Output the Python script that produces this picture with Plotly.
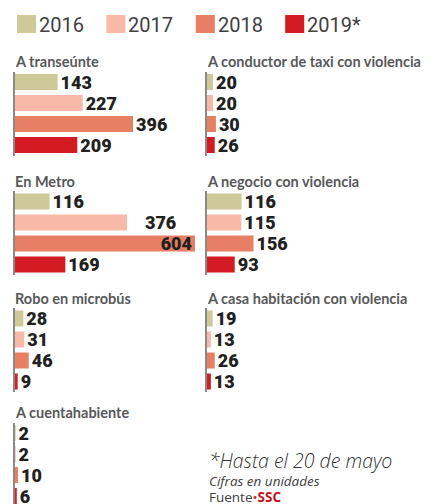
import plotly.graph_objects as go

W, H = 446, 504

years = ["2016", "2017", "2018", "2019*"]
year_keys = ["2016", "2017", "2018", "2019"]
colors = ["#cfc899", "#f8b9a8", "#e67f64", "#d41a22"]

titles = [
    "A transeúnte",
    "A conductor de taxi con violencia",
    "En Metro",
    "A negocio con violencia",
    "Robo en microbús",
    "A casa habitación con violencia",
    "A cuentahabiente",
]
transeunte = [143, 227, 396, 209]
taxi = [20, 20, 30, 26]
metro = [116, 376, 604, 169]
negocio = [116, 115, 156, 93]
microbus = [28, 31, 46, 9]
casa = [19, 13, 26, 13]
cuentahabiente = [2, 2, 10, 6]
series = [transeunte, taxi, metro, negocio, microbus, casa, cuentahabiente]

# layout (pixels)
col_x = [15, 207]
row_top = [71.5, 191, 308, 422.5]
row_base = [69, 188, 305.5, 419]
pitch = 21.0
XMAX = 650
px_per_unit = 0.298

def xd(p):
    return p / W

def yd(p):
    return 1 - p / H

fig = go.Figure()
layout = dict(
    width=W, height=H,
    margin=dict(l=0, r=0, t=0, b=0),
    paper_bgcolor="white", plot_bgcolor="rgba(0,0,0,0)",
    showlegend=False,
    annotations=[], shapes=[],
)

label_font = dict(family="Roboto", size=18, color="#231f20", weight=900)

for i, (title, vals) in enumerate(zip(titles, series)):
    col = i % 2
    row = i // 2
    n = i + 1
    xa = "x" if n == 1 else f"x{n}"
    ya = "y" if n == 1 else f"y{n}"
    x0 = col_x[col]
    x1 = x0 + XMAX * px_per_unit
    top = row_top[row]
    bot = min(top + 4 * pitch, H)
    units = (bot - top) / pitch
    positions = []
    texts = []
    for v in vals:
        if v == max(vals) and v > 500:
            positions.append("inside")
        else:
            positions.append("outside")
        texts.append(str(v))
    # displaced label in Metro panel for 2017
    if title == "En Metro":
        texts[1] = ""
    fig.add_trace(go.Bar(
        x=vals, y=year_keys, orientation="h",
        marker=dict(color=colors, line=dict(width=0)),
        width=0.76,
        text=texts, textposition=positions,
        insidetextanchor="end",
        textfont=label_font,
        insidetextfont=label_font,
        outsidetextfont=label_font,
        cliponaxis=False, constraintext="none",
        hoverinfo="skip",
        xaxis=xa, yaxis=ya,
    ))
    if title == "En Metro":
        layout["annotations"].append(dict(
            x=vals[1], y=1, xref=xa, yref=ya,
            text=str(vals[1]), showarrow=False, xanchor="left", yanchor="middle",
            xshift=16, font=label_font,
        ))
    layout["xaxis" if n == 1 else f"xaxis{n}"] = dict(
        domain=[xd(x0), xd(x1)], range=[0, XMAX], visible=False,
        anchor=ya, fixedrange=True,
    )
    layout["yaxis" if n == 1 else f"yaxis{n}"] = dict(
        domain=[yd(bot), yd(top)], type="category",
        categoryorder="array", categoryarray=year_keys,
        range=[-0.5 + units, -0.5],
        showline=True, linecolor="#8a8a8a", linewidth=2,
        showticklabels=False, ticks="", showgrid=False, zeroline=False,
        anchor=xa, fixedrange=True,
    )
    layout["annotations"].append(dict(
        x=xd(x0 - 2), y=yd(row_base[row] + 3.5), xref="paper", yref="paper",
        text=title, showarrow=False, xanchor="left", yanchor="bottom",
        font=dict(family="Lato", size=14.5, color="#58595b", weight="bold"),
    ))

# legend
for i, (lab, c) in enumerate(zip(years, colors)):
    lx = 17 + i * 89.4
    layout["shapes"].append(dict(
        type="rect", xref="paper", yref="paper",
        x0=xd(lx), x1=xd(lx + 19), y0=yd(33), y1=yd(15),
        fillcolor=c, line=dict(width=0),
    ))
    layout["annotations"].append(dict(
        x=xd(lx + 20), y=yd(25), xref="paper", yref="paper",
        text=lab, showarrow=False, xanchor="left", yanchor="middle",
        font=dict(family="Roboto", size=20, color="#414042"),
    ))

# footer
layout["annotations"] += [
    dict(x=xd(207), y=yd(460.5), xref="paper", yref="paper",
         text="<i>*Hasta el 20 de mayo</i>", showarrow=False,
         xanchor="left", yanchor="middle",
         font=dict(family="Open Sans", size=19.5, color="#333333", weight=300)),
    dict(x=xd(207), y=yd(489), xref="paper", yref="paper",
         text=("<span style='font-size:13.5px'><i>Cifras en unidades</i></span><br>"
               "<span style='font-size:13.5px'>Fuente<span style='color:#d41a22'>•</span>"
               "<b><span style='color:#c0141c'>SSC</span></b></span>"),
         showarrow=False, xanchor="left", yanchor="middle", align="left",
         font=dict(family="Open Sans", size=12.3, color="#414042")),
]

fig.update_layout(**layout)
fig.write_html(
    "out.html",
    config={"displayModeBar": False, "staticPlot": True},
    post_script="document.body.style.margin='0';document.body.style.overflow='hidden';",
)
